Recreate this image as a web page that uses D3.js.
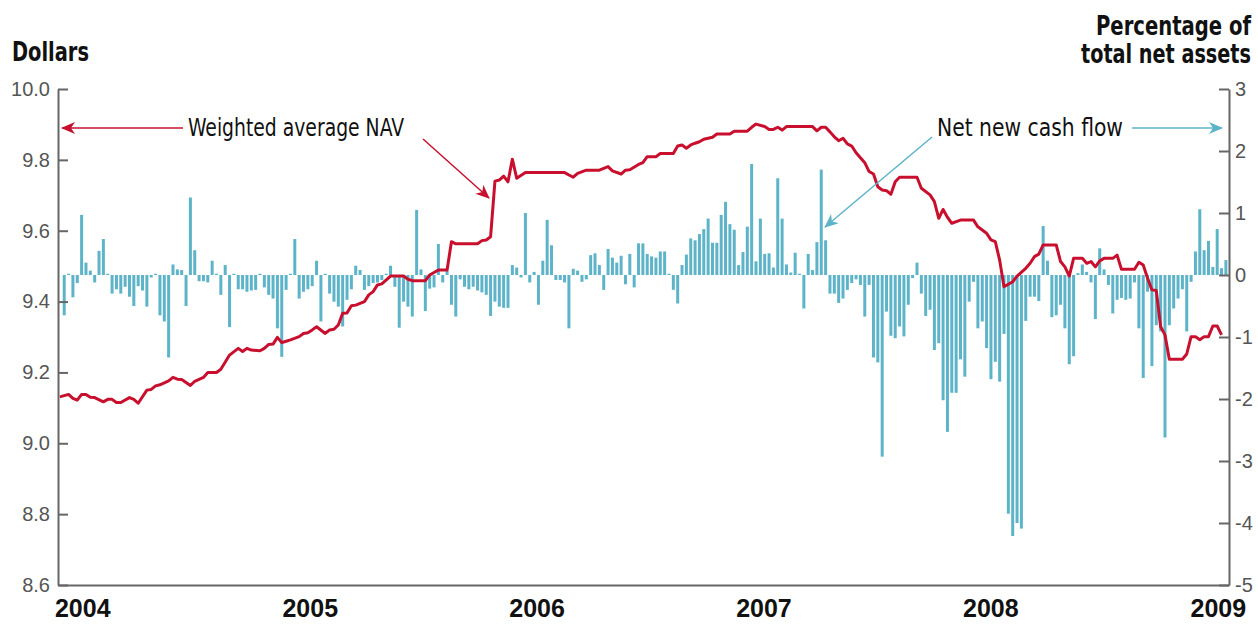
<!DOCTYPE html>
<html lang="en">
<head>
<meta charset="utf-8">
<title>Weighted average NAV and net new cash flow</title>
<script src="https://d3js.org/d3.v7.min.js"></script>
<style type="text/css">
    body { margin: 0; background: white; }
    svg { display: block; font-family: "Liberation Sans Narrow", "Arial Narrow", "DejaVu Sans Condensed", sans-serif; }
    .axis path, .axis line { stroke: #666; stroke-width: 2; }
    .lt text, .rt text { fill: #555; font-size: 20px; }
    .bt text { fill: #111; font-size: 25px; font-weight: bold; }
</style>
</head>
<body>
<svg id="chart" width="1258" height="625"></svg>
<script>

    // weekly net new cash flow, % of total net assets (first week: 3 Dec 2003)
    var flowStart = new Date(2003, 11, 3);
    var cashFlow = [
        -0.65, 0.02, -0.36, -0.13, 0.97, 0.2, 0.07, -0.12, 0.39, 0.58, 0.02, -0.3, -0.23, -0.3, -0.19, -0.35,
        -0.5, -0.18, -0.25, -0.51, -0.04, 0.02, -0.65, -0.75, -1.33, 0.17, 0.09, 0.08, -0.5, 1.25, 0.4, -0.1,
        -0.1, -0.12, 0.23, 0.02, -0.32, 0.16, -0.84, 0.02, -0.23, -0.23, -0.27, -0.25,
        -0.24, 0.02, -0.2, -0.32, -0.38, -0.86, -1.32, -0.24, 0.02, 0.58, -0.38, -0.27, -0.23, -0.18, 0.23, -0.75,
        0.02, -0.3, -0.43, -0.51, -0.83, -0.4, -0.23, 0.15, 0.08, -0.24, -0.18, -0.13, -0.12, -0.08, 0.02, 0.15,
        -0.19, -0.85, -0.43, -0.51, -0.67, 1.05, 0.09, -0.58, -0.22, -0.2, 0.5, -0.12, 0.07,
        -0.48, -0.67, -0.07, -0.19, -0.23, -0.19, -0.25, -0.28, -0.32, -0.66, -0.43, -0.51, -0.53, -0.53, 0.16, 0.12,
        -0.04, 1.0, -0.12, 0.05, -0.48, 0.23, 0.89, 0.48, -0.08, -0.08, -0.12, -0.86, 0.1, 0.07, -0.11, -0.07,
        0.32, 0.35, 0.16, -0.24, 0.42, 0.28, 0.2, 0.31, -0.15, 0.34, -0.2, 0.51, 0.51,
        0.34, 0.3, 0.28, 0.38, 0.38, 0.02, -0.24, -0.46, 0.16, 0.33, 0.59, 0.56, 0.66, 0.74, 0.91, 0.52,
        0.52, 0.97, 1.18, 0.82, 0.73, 0.16, 0.37, 0.78, 1.79, 0.22, 0.91, 0.34, 0.35, 0.12, 1.56, 0.91,
        0.17, 0.04, 0.36, 0.02, -0.54, 0.34, 0.08, 0.53, 1.7, 0.56, -0.3, -0.3, -0.45,
        -0.38, -0.24, -0.13, -0.07, -0.16, -0.67, -0.16, -1.33, -1.41, -2.93, -0.59, -0.98, -1.02, -0.83, -0.99, -0.48,
        -0.05, 0.2, -0.3, -0.66, -0.56, -1.21, -1.1, -2.02, -2.53, -1.9, -1.9, -1.36, -1.64, -0.43, -0.11, -0.86,
        -0.75, -1.18, -1.68, -1.4, -1.72, -0.95, -3.85, -4.21, -4.0, -4.09, -0.74, -0.35,
        -0.35, -0.42, 0.79, 0.23, -0.68, -0.65, -0.48, -0.86, -1.44, -1.31, 0.03, 0.17, 0.05, -0.12, -0.71, 0.43,
        0.09, -0.16, -0.62, -0.4, -0.37, -0.4, -0.38, -0.12, -0.86, -1.66, -0.27, -1.47, -0.81, -0.91, -2.62, -0.81,
        -0.54, -0.38, -0.23, -0.91, -0.11, 0.38, 1.06, 0.4, 0.55, 0.13, 0.74, 0.11, 0.24
    ];

    // weighted average NAV, read at the turning points (week number from flowStart)
    var navWeek = [
        -1, 1, 2, 3, 4, 5, 6, 7, 9, 10, 11, 12, 13, 15, 16, 17, 19, 20, 21, 22, 24, 25, 26, 27, 29, 30, 32, 33,
        35, 36, 38, 40, 41, 42, 43, 45, 46, 47, 48, 49, 50, 51, 52, 54, 55, 56, 57, 58, 60, 61, 62, 63, 64, 65,
        66, 67, 69, 70, 71, 72, 73, 75, 78, 79, 80, 83, 84, 86, 88, 89, 90, 95, 96, 97, 98, 99, 100, 101, 102,
        103, 104, 106, 115, 117, 118, 120, 123, 125, 126, 128, 129, 130, 132, 133, 134, 136, 137, 140, 141, 142,
        143, 144, 145, 146, 147, 149, 150, 153, 154, 157, 158, 159, 161, 162, 163, 164, 165, 166, 172, 173, 174,
        175, 176, 177, 178, 179, 180, 181, 182, 184, 185, 186, 187, 188, 189, 190, 191, 192, 196, 197, 199, 200,
        201, 202, 203, 204, 206, 209, 210, 212, 213, 214, 215, 216, 218, 219, 221, 222, 223, 224, 225, 228, 229,
        230, 231, 232, 234, 235, 236, 237, 238, 239, 241, 242, 243, 246, 247, 248, 249, 250, 251, 252, 253, 254,
        257, 258, 259, 260, 261, 262, 263, 264, 265, 266
    ];
    var navValue = [
        9.131, 9.138, 9.127, 9.122, 9.138, 9.138, 9.13, 9.129, 9.117, 9.124, 9.124, 9.115, 9.115, 9.129, 9.124, 9.113,
        9.15, 9.152, 9.162, 9.165, 9.176, 9.186, 9.181, 9.18, 9.163, 9.175, 9.186, 9.2, 9.2, 9.209, 9.249, 9.268,
        9.259, 9.268, 9.263, 9.261, 9.268, 9.279, 9.28, 9.299, 9.284, 9.288, 9.292, 9.301, 9.31, 9.312, 9.32, 9.329,
        9.31, 9.32, 9.322, 9.334, 9.367, 9.368, 9.388, 9.39, 9.4, 9.419, 9.428, 9.447, 9.45, 9.472, 9.472, 9.463,
        9.459, 9.459, 9.475, 9.489, 9.489, 9.569, 9.563, 9.563, 9.572, 9.574, 9.583, 9.74, 9.743, 9.754, 9.738,
        9.802, 9.748, 9.764, 9.764, 9.751, 9.762, 9.771, 9.771, 9.781, 9.769, 9.76, 9.771, 9.772, 9.787, 9.792,
        9.809, 9.809, 9.818, 9.818, 9.839, 9.842, 9.833, 9.842, 9.847, 9.851, 9.858, 9.864, 9.873, 9.873, 9.881,
        9.881, 9.892, 9.901, 9.894, 9.886, 9.886, 9.892, 9.884, 9.894, 9.894, 9.882, 9.892, 9.892, 9.879, 9.865,
        9.854, 9.861, 9.845, 9.839, 9.82, 9.792, 9.767, 9.76, 9.724, 9.715, 9.713, 9.703, 9.738, 9.751, 9.751,
        9.72, 9.701, 9.682, 9.635, 9.66, 9.638, 9.621, 9.63, 9.63, 9.611, 9.593, 9.574, 9.569, 9.517, 9.442,
        9.456, 9.472, 9.494, 9.508, 9.527, 9.534, 9.56, 9.56, 9.513, 9.498, 9.472, 9.522, 9.522, 9.508, 9.513,
        9.498, 9.515, 9.522, 9.522, 9.531, 9.491, 9.491, 9.511, 9.503, 9.466, 9.433, 9.431, 9.329, 9.306, 9.237,
        9.237, 9.252, 9.301, 9.301, 9.292, 9.301, 9.301, 9.331, 9.331, 9.306
    ];

    var dollarTicks = [8.6, 8.8, 9.0, 9.2, 9.4, 9.6, 9.8, 10.0];
    var percentTicks = [-5, -4, -3, -2, -1, 0, 1, 2, 3];
    var yearTicks = [2004, 2005, 2006, 2007, 2008, 2009];

    var red = "#c8102e";
    var teal = "#5db4c9";

    var mLeft = 58, mRight = 1229, mTop = 89, mBottom = 585;

    var weekDate = function (w) { return d3.timeDay.offset(flowStart, 7 * w); };

    var x = d3.scaleTime()
        .domain([new Date(2003, 10, 23), new Date(2009, 0, 19)])
        .range([mLeft, mRight]);
    var yL = d3.scaleLinear().domain([8.6, 10]).range([mBottom, mTop]);
    var yR = d3.scaleLinear().domain([-5, 3]).range([mBottom, mTop]);

    var svg = d3.select("#chart");

    var defs = svg.append("defs");
    [["headRed", red], ["headTeal", teal]].forEach(function (m) {
        defs.append("marker")
            .attr("id", m[0])
            .attr("viewBox", "-14 -7 16 14")
            .attr("markerWidth", 16)
            .attr("markerHeight", 14)
            .attr("markerUnits", "userSpaceOnUse")
            .attr("orient", "auto")
            .append("path")
            .attr("d", "M1,0 L-13,-6 L-9,0 L-13,6 Z")
            .attr("fill", m[1]);
    });

    // bars
    svg.append("g")
        .selectAll("rect")
        .data(cashFlow)
        .enter().append("rect")
        .attr("x", (d, i) => x(weekDate(i)) - 1.5)
        .attr("width", 3)
        .attr("y", d => Math.min(yR(d), yR(0)))
        .attr("height", d => Math.abs(yR(d) - yR(0)))
        .style("fill", teal);

    // axes
    svg.append("g")
        .attr("class", "axis lt")
        .attr("transform", "translate(" + mLeft + ",0)")
        .call(d3.axisLeft(yL).tickValues(dollarTicks).tickFormat(d3.format(".1f"))
            .tickSizeInner(-10).tickSizeOuter(0).tickPadding(8));

    svg.append("g")
        .attr("class", "axis rt")
        .attr("transform", "translate(" + mRight + ",0)")
        .call(d3.axisRight(yR).tickValues(percentTicks).tickFormat(d => String(d))
            .tickSizeInner(-10).tickSizeOuter(0).tickPadding(6));

    svg.append("g")
        .attr("class", "axis bt")
        .attr("transform", "translate(0," + mBottom + ")")
        .call(d3.axisBottom(x).tickValues(yearTicks.map(yr => new Date(yr, 0, 1)))
            .tickFormat(d3.timeFormat("%Y")).tickSize(0).tickPadding(14));

    // NAV line
    var line = d3.line()
        .x((d, i) => x(weekDate(navWeek[i])))
        .y(d => yL(d));

    svg.append("path")
        .datum(navValue)
        .attr("d", line)
        .attr("fill", "none")
        .attr("stroke", red)
        .attr("stroke-width", 3)
        .attr("stroke-linejoin", "round");

    // titles and annotations, squeezed to the condensed face of the original
    function label(txt, xx, yy, size, len, bold, anchor) {
        svg.append("text")
            .attr("x", xx).attr("y", yy)
            .attr("text-anchor", anchor || "start")
            .attr("textLength", len)
            .attr("lengthAdjust", "spacingAndGlyphs")
            .style("font-size", size + "px")
            .style("font-weight", bold ? "bold" : "normal")
            .style("fill", "#111")
            .text(txt);
    }

    label("Dollars", 12, 61, 26, 77, true);
    label("Percentage of", 1251, 35, 26, 155, true, "end");
    label("total net assets", 1251, 63, 26, 170, true, "end");

    label("Weighted average NAV", 188, 136, 25, 216, false);
    svg.append("line").attr("x1", 183).attr("y1", 128).attr("x2", 62).attr("y2", 128)
        .attr("stroke", red).attr("stroke-width", 1.5).attr("marker-end", "url(#headRed)");
    svg.append("line").attr("x1", 423).attr("y1", 139).attr("x2", 489).attr("y2", 198)
        .attr("stroke", red).attr("stroke-width", 1.5).attr("marker-end", "url(#headRed)");

    label("Net new cash flow", 937, 136, 25, 186, false);
    svg.append("line").attr("x1", 1132).attr("y1", 128).attr("x2", 1222).attr("y2", 128)
        .attr("stroke", teal).attr("stroke-width", 1.5).attr("marker-end", "url(#headTeal)");
    svg.append("line").attr("x1", 932).attr("y1", 137).attr("x2", 825).attr("y2", 227)
        .attr("stroke", teal).attr("stroke-width", 1.5).attr("marker-end", "url(#headTeal)");

</script>
</body>
</html>
